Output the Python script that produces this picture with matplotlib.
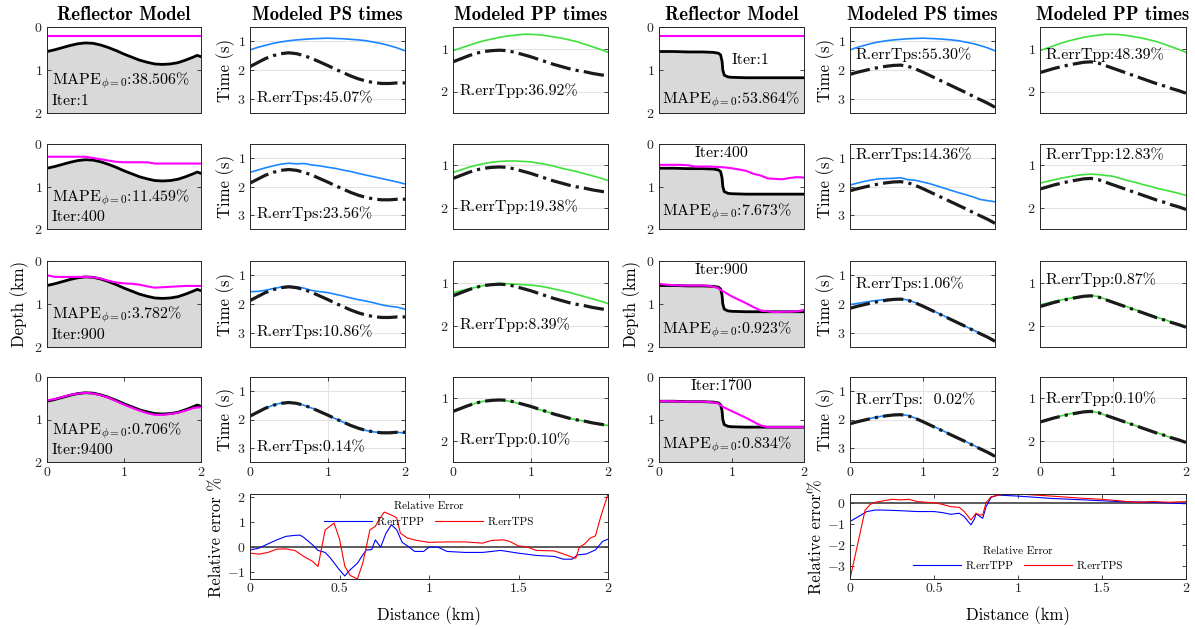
import numpy as np
import matplotlib.pyplot as plt

plt.rcParams['font.family'] = ['cmr10', 'DejaVu Serif']
plt.rcParams['mathtext.fontset'] = 'cm'
plt.rcParams['axes.formatter.use_mathtext'] = True

# ---------------- data ----------------
dist = np.round(np.arange(0, 2.01, 0.1), 2)

# left model: smooth reflector
ref_x_L = [0, 0.1, 0.2, 0.3, 0.4, 0.5, 0.6, 0.7, 0.8, 0.9, 1.0, 1.1, 1.2, 1.3,
           1.4, 1.5, 1.6, 1.7, 1.8, 1.9, 1.95, 2.0]
ref_true_L = [0.57, 0.53, 0.48, 0.43, 0.39, 0.37, 0.38, 0.42, 0.48, 0.55, 0.63,
              0.70, 0.77, 0.82, 0.86, 0.87, 0.86, 0.83, 0.77, 0.70, 0.66, 0.69]
ref_est_L = {
    1: [0.22] * 21,
    400: [0.30, 0.30, 0.30, 0.30, 0.30, 0.30, 0.33, 0.36, 0.39, 0.42, 0.43,
          0.43, 0.43, 0.43, 0.46, 0.46, 0.46, 0.46, 0.46, 0.46, 0.46],
    900: [0.33, 0.37, 0.37, 0.37, 0.37, 0.37, 0.38, 0.41, 0.46, 0.50, 0.52,
          0.53, 0.55, 0.59, 0.62, 0.61, 0.60, 0.59, 0.58, 0.58, 0.58],
    9400: [0.55, 0.52, 0.47, 0.42, 0.39, 0.37, 0.39, 0.43, 0.49, 0.57, 0.65,
           0.72, 0.79, 0.85, 0.89, 0.89, 0.87, 0.84, 0.79, 0.73, 0.71],
}
iters_L = [1, 400, 900, 9400]
mape_L = ['38.506', '11.459', '3.782', '0.706']

ps_true_L = [1.88, 1.74, 1.60, 1.50, 1.43, 1.40, 1.43, 1.50, 1.60, 1.72, 1.84,
             1.97, 2.09, 2.21, 2.31, 2.39, 2.44, 2.47, 2.47, 2.45, 2.45]
ps_est_L = {
    1: [1.30, 1.21, 1.14, 1.07, 1.02, 0.98, 0.95, 0.93, 0.91, 0.90, 0.89,
        0.90, 0.91, 0.93, 0.95, 0.98, 1.03, 1.08, 1.15, 1.23, 1.33],
    400: [1.50, 1.42, 1.34, 1.27, 1.21, 1.18, 1.20, 1.19, 1.24, 1.27, 1.32,
          1.36, 1.42, 1.47, 1.54, 1.60, 1.66, 1.72, 1.78, 1.84, 1.91],
    900: [1.57, 1.56, 1.52, 1.46, 1.41, 1.38, 1.40, 1.45, 1.53, 1.57, 1.60,
          1.66, 1.72, 1.79, 1.85, 1.90, 1.96, 2.03, 2.08, 2.11, 2.18],
    9400: [1.87, 1.73, 1.60, 1.49, 1.42, 1.40, 1.43, 1.50, 1.60, 1.72, 1.84,
           1.97, 2.09, 2.21, 2.31, 2.39, 2.44, 2.46, 2.46, 2.45, 2.48],
}
ps_err_L = ['45.07', '23.56', '10.86', '0.14']

pp_true_L = [1.31, 1.24, 1.17, 1.11, 1.07, 1.05, 1.04, 1.05, 1.09, 1.14, 1.19,
             1.25, 1.31, 1.37, 1.42, 1.47, 1.51, 1.54, 1.58, 1.61, 1.64]
pp_est_L = {
    1: [1.05, 0.99, 0.93, 0.87, 0.82, 0.78, 0.74, 0.71, 0.69, 0.67, 0.67,
        0.68, 0.70, 0.73, 0.76, 0.80, 0.84, 0.90, 0.96, 1.02, 1.09],
    400: [1.17, 1.11, 1.05, 1.00, 0.96, 0.93, 0.91, 0.90, 0.90, 0.91, 0.92,
          0.95, 0.98, 1.02, 1.07, 1.11, 1.15, 1.20, 1.25, 1.30, 1.36],
    900: [1.24, 1.19, 1.15, 1.11, 1.07, 1.04, 1.02, 1.03, 1.04, 1.05, 1.06,
          1.08, 1.11, 1.15, 1.19, 1.23, 1.28, 1.33, 1.38, 1.43, 1.49],
    9400: [1.30, 1.23, 1.17, 1.11, 1.07, 1.05, 1.04, 1.06, 1.10, 1.15, 1.20,
           1.26, 1.31, 1.37, 1.42, 1.47, 1.51, 1.54, 1.58, 1.61, 1.64],
}
pp_err_L = ['36.92', '19.38', '8.39', '0.10']

# right model: step reflector
ref_x_R = [0, 0.2, 0.4, 0.6, 0.75, 0.82, 0.85, 0.87, 0.88, 0.9, 0.95, 1.0, 1.2, 1.5, 2.0]
ref_true_R = [0.57, 0.57, 0.58, 0.58, 0.59, 0.61, 0.65, 0.80, 1.00, 1.12, 1.16,
              1.17, 1.18, 1.18, 1.18]
ref_est_R = {
    1: [0.22] * 21,
    400: [0.49, 0.49, 0.49, 0.49, 0.50, 0.53, 0.53, 0.53, 0.54, 0.55, 0.57,
          0.60, 0.63, 0.70, 0.74, 0.81, 0.82, 0.83, 0.80, 0.78, 0.79],
    900: [0.53, 0.55, 0.56, 0.57, 0.57, 0.57, 0.57, 0.58, 0.62, 0.72, 0.82,
          0.90, 0.98, 1.07, 1.15, 1.17, 1.19, 1.18, 1.18, 1.17, 1.14],
    1700: [0.57, 0.57, 0.57, 0.58, 0.58, 0.58, 0.58, 0.59, 0.61, 0.72, 0.80,
           0.88, 0.96, 1.05, 1.14, 1.18, 1.18, 1.18, 1.18, 1.18, 1.18],
}
iters_R = [1, 400, 900, 1700]
mape_R = ['53.864', '7.673', '0.923', '0.834']

ps_true_R = [2.15, 2.08, 2.02, 1.96, 1.91, 1.87, 1.84, 1.83, 1.87, 1.96, 2.07,
             2.19, 2.31, 2.43, 2.55, 2.67, 2.79, 2.92, 3.04, 3.16, 3.30]
ps_est_R = {
    1: [1.30, 1.21, 1.14, 1.07, 1.02, 0.98, 0.95, 0.93, 0.91, 0.90, 0.89,
        0.90, 0.91, 0.93, 0.95, 0.98, 1.03, 1.08, 1.15, 1.23, 1.33],
    400: [1.95, 1.88, 1.82, 1.77, 1.73, 1.72, 1.71, 1.69, 1.76, 1.78, 1.84,
          1.90, 1.98, 2.06, 2.14, 2.22, 2.29, 2.37, 2.46, 2.50, 2.54],
    900: [2.02, 1.98, 1.94, 1.90, 1.87, 1.84, 1.82, 1.82, 1.86, 1.95, 2.06,
          2.18, 2.30, 2.42, 2.54, 2.67, 2.79, 2.91, 3.03, 3.15, 3.27],
    1700: [2.13, 2.07, 2.01, 1.95, 1.90, 1.86, 1.83, 1.82, 1.86, 1.95, 2.06,
           2.18, 2.30, 2.42, 2.54, 2.66, 2.78, 2.91, 3.03, 3.16, 3.29],
}
ps_err_R = ['55.30', '14.36', '1.06', '  0.02']

pp_true_R = [1.56, 1.51, 1.46, 1.42, 1.38, 1.35, 1.32, 1.31, 1.34, 1.40, 1.46,
             1.52, 1.58, 1.64, 1.70, 1.76, 1.82, 1.87, 1.93, 1.98, 2.04]
pp_est_R = {
    1: [1.05, 0.99, 0.93, 0.87, 0.82, 0.78, 0.74, 0.71, 0.69, 0.67, 0.67,
        0.68, 0.70, 0.73, 0.76, 0.80, 0.84, 0.90, 0.96, 1.02, 1.09],
    400: [1.42, 1.38, 1.34, 1.30, 1.27, 1.24, 1.22, 1.21, 1.22, 1.24, 1.26,
          1.31, 1.36, 1.40, 1.45, 1.49, 1.54, 1.58, 1.62, 1.66, 1.71],
    900: [1.52, 1.48, 1.44, 1.40, 1.37, 1.34, 1.31, 1.30, 1.33, 1.39, 1.45,
          1.51, 1.57, 1.63, 1.69, 1.75, 1.81, 1.86, 1.92, 1.97, 2.02],
    1700: [1.55, 1.50, 1.46, 1.41, 1.37, 1.34, 1.32, 1.31, 1.34, 1.40, 1.46,
           1.52, 1.58, 1.64, 1.70, 1.76, 1.81, 1.87, 1.93, 1.98, 2.03],
}
pp_err_R = ['48.39', '12.83', '0.87', '0.10']

# relative error curves (bottom)
err_x_L_tpp = [0, 0.05, 0.1, 0.15, 0.2, 0.25, 0.28, 0.3, 0.35, 0.38, 0.42, 0.45,
               0.5, 0.53, 0.55, 0.58, 0.6, 0.63, 0.65, 0.68, 0.7, 0.73, 0.76,
               0.79, 0.82, 0.85, 0.88, 0.92, 0.97, 1.0, 1.05, 1.1, 1.2, 1.3,
               1.4, 1.5, 1.6, 1.7, 1.75, 1.8, 1.83, 1.88, 1.93, 1.97, 2.0]
err_L_tpp = [-0.11, -0.04, 0.13, 0.29, 0.43, 0.47, 0.48, 0.39, 0.09, -0.13,
             -0.21, -0.44, -0.91, -1.15, -0.97, -0.77, -0.64, -0.31, -0.11,
             -0.10, 0.29, 0.0, 0.56, 0.89, 0.69, 0.19, 0.05, -0.17, -0.17, 0.0,
             0.0, -0.17, -0.21, -0.21, -0.13, -0.24, -0.33, -0.37, -0.48,
             -0.48, -0.31, -0.27, -0.11, 0.23, 0.32]
err_x_L_tps = [0, 0.05, 0.1, 0.15, 0.2, 0.25, 0.3, 0.35, 0.38, 0.42, 0.47, 0.5,
               0.53, 0.56, 0.6, 0.63, 0.67, 0.7, 0.72, 0.75, 0.8, 0.82, 0.84,
               0.88, 0.93, 1.0, 1.1, 1.2, 1.3, 1.35, 1.42, 1.45, 1.5, 1.55, 1.6,
               1.7, 1.75, 1.8, 1.82, 1.84, 1.87, 1.9, 1.93, 1.96, 2.0]
err_L_tps = [-0.24, -0.28, -0.21, -0.08, -0.07, -0.13, -0.37, -0.57, -0.77,
             0.69, 0.96, 0.32, -0.77, -1.13, -1.27, -0.64, 0.69, 0.83, 1.09,
             1.40, 1.25, 1.16, 0.56, 0.36, 0.27, 0.19, 0.21, 0.21, 0.16, 0.27,
             0.29, 0.23, 0.05, 0.0, -0.13, -0.15, -0.27, -0.40, -0.44, 0.0,
             0.13, 0.36, 0.45, 1.23, 2.12]

err_x_R_tpp = [0, 0.05, 0.1, 0.15, 0.2, 0.3, 0.4, 0.5, 0.55, 0.6, 0.65, 0.68,
               0.72, 0.74, 0.75, 0.77, 0.79, 0.81, 0.84, 0.88, 1.0, 1.2, 1.4,
               1.6, 1.8, 2.0]
err_R_tpp = [-0.89, -0.66, -0.42, -0.35, -0.35, -0.38, -0.42, -0.42, -0.47,
             -0.55, -0.50, -0.66, -1.05, -0.78, -0.53, -0.63, -0.74, -0.19,
             0.25, 0.36, 0.31, 0.20, 0.13, 0.05, 0.02, -0.05]
err_x_R_tps = [0, 0.09, 0.1, 0.12, 0.15, 0.2, 0.25, 0.3, 0.35, 0.4, 0.45, 0.5,
               0.55, 0.6, 0.65, 0.68, 0.72, 0.75, 0.77, 0.79, 0.81, 0.84, 0.9,
               1.0, 1.2, 1.4, 1.5, 1.6, 1.7, 1.8, 1.9, 2.0]
err_R_tps = [-3.61, -0.35, -0.27, -0.08, 0.02, 0.09, 0.16, 0.13, 0.16, 0.05,
             0.02, 0.0, -0.08, -0.19, -0.22, -0.42, -0.82, -0.50, -0.58, -0.58,
             0.0, 0.28, 0.38, 0.41, 0.31, 0.20, 0.16, 0.09, 0.02, 0.05, 0.02,
             0.05]

# ---------------- layout ----------------
W, H = 1195, 629
fig = plt.figure(figsize=(W / 100, H / 100), dpi=100)

col_px = [(47, 201), (250, 405), (453, 608), (659, 804), (850, 995), (1040, 1186)]
row_px = [(27, 113), (144, 229), (261, 347), (377, 462)]

EDGE = '#262626'
BLUE = '#1a86ff'
GREEN = '#3fe03a'
MAGENTA = '#ff00ff'
FILL = '#d9d9d9'
TXT = 11.5
TITLE = 13.5


def add_box(l, t, r, b):
    return fig.add_axes([l / W, 1 - b / H, (r - l) / W, (b - t) / H])


def style(ax):
    ax.tick_params(direction='in', top=True, right=True, length=3, width=0.6,
                   labelsize=10, colors=EDGE, pad=3)
    for s in ax.spines.values():
        s.set_linewidth(0.7)
        s.set_color(EDGE)


def xaxis(ax, last):
    ax.set_xlim(0, 2)
    if last:
        ax.set_xticks([0, 1, 2])
    else:
        ax.set_xticks([])


def reflector(ax, xt, yt, ye, r):
    ax.fill_between(xt, yt, 2, color=FILL, lw=0)
    ax.plot(xt, yt, color='k', lw=2)
    ax.plot(dist, ye, color=MAGENTA, lw=1.5)
    ax.set_ylim(2, 0)
    ax.set_yticks([0, 1, 2])
    xaxis(ax, r == 3)
    style(ax)


def times(ax, true_t, est_t, color, ylim, yticks, r):
    ax.grid(True, color='#e3e3e3', lw=0.8)
    ax.set_axisbelow(True)
    ax.plot(dist, est_t, color=color, lw=1.2)
    ax.plot(dist, true_t, '-.', color='#1a1a1a', lw=2.3)
    ax.set_ylim(*ylim)
    ax.set_yticks(yticks)
    xaxis(ax, r == 3)
    style(ax)


for r in range(4):
    t, b = row_px[r]
    # ---- left group ----
    it = iters_L[r]
    ax = add_box(col_px[0][0], t, col_px[0][1], b)
    reflector(ax, ref_x_L, ref_true_L, ref_est_L[it], r)
    ax.text(0.03, 0.37, r'MAPE$_{\phi=0}$:' + mape_L[r] + '%', transform=ax.transAxes,
            fontsize=TXT, va='center')
    ax.text(0.03, 0.14, 'Iter:%d' % it, transform=ax.transAxes, fontsize=TXT, va='center')
    if r == 0:
        ax.set_title('Reflector Model', fontfamily='cmb10', fontsize=TITLE, pad=5)
    if r == 2:
        ax.set_ylabel('Depth (km)', fontsize=12)

    ax = add_box(col_px[1][0], t, col_px[1][1], b)
    times(ax, ps_true_L, ps_est_L[it], BLUE, (3.5, 0.5), [1, 2, 3], r)
    ax.text(0.04, 0.18, 'R.errTps:' + ps_err_L[r] + '%', transform=ax.transAxes,
            fontsize=TXT, va='center')
    ax.set_ylabel('Time (s)', fontsize=12, labelpad=2)
    if r == 0:
        ax.set_title('Modeled PS times', fontfamily='cmb10', fontsize=TITLE, pad=5)

    ax = add_box(col_px[2][0], t, col_px[2][1], b)
    times(ax, pp_true_L, pp_est_L[it], GREEN, (2.5, 0.5), [1, 2], r)
    ax.text(0.04, 0.26, 'R.errTpp:' + pp_err_L[r] + '%', transform=ax.transAxes,
            fontsize=TXT, va='center')
    if r == 0:
        ax.set_title('Modeled PP times', fontfamily='cmb10', fontsize=TITLE, pad=5)

    # ---- right group ----
    it = iters_R[r]
    ax = add_box(col_px[3][0], t, col_px[3][1], b)
    reflector(ax, ref_x_R, ref_true_R, ref_est_R[it], r)
    if r == 0:
        ax.text(0.63, 0.61, 'Iter:%d' % it, transform=ax.transAxes, fontsize=TXT,
                ha='center', va='center')
        ax.text(0.02, 0.16, r'MAPE$_{\phi=0}$:' + mape_R[r] + '%',
                transform=ax.transAxes, fontsize=TXT, va='center')
        ax.set_title('Reflector Model', fontfamily='cmb10', fontsize=TITLE, pad=5)
    else:
        ax.text(0.43, 0.89, 'Iter:%d' % it, transform=ax.transAxes, fontsize=TXT,
                ha='center', va='center')
        ax.text(0.02, 0.2, r'MAPE$_{\phi=0}$:' + mape_R[r] + '%',
                transform=ax.transAxes, fontsize=TXT, va='center')
    if r == 2:
        ax.set_ylabel('Depth (km)', fontsize=12)

    ps_y = [0.68, 0.87, 0.74, 0.73][r]
    ax = add_box(col_px[4][0], t, col_px[4][1], b)
    times(ax, ps_true_R, ps_est_R[it], BLUE, (3.5, 0.5), [1, 2, 3], r)
    ax.text(0.04, ps_y, 'R.errTps:' + ps_err_R[r] + '%', transform=ax.transAxes,
            fontsize=TXT, va='center')
    ax.set_ylabel('Time (s)', fontsize=12, labelpad=2)
    if r == 0:
        ax.set_title('Modeled PS times', fontfamily='cmb10', fontsize=TITLE, pad=5)

    pp_y = [0.68, 0.88, 0.78, 0.75][r]
    ax = add_box(col_px[5][0], t, col_px[5][1], b)
    times(ax, pp_true_R, pp_est_R[it], GREEN, (2.5, 0.5), [1, 2], r)
    ax.text(0.04, pp_y, 'R.errTpp:' + pp_err_R[r] + '%', transform=ax.transAxes,
            fontsize=TXT, va='center')
    if r == 0:
        ax.set_title('Modeled PP times', fontfamily='cmb10', fontsize=TITLE, pad=5)


def error_panel(ax, xa, ya, xb, yb, ylabel, loc):
    ax.axhline(0, color='#404040', lw=1.2)
    ax.plot(xa, ya, color='#0000ff', lw=0.8, label='R.errTPP')
    ax.plot(xb, yb, color='#ff0000', lw=0.8, label='R.errTPS')
    ax.set_xlim(0, 2)
    lo = min(min(ya), min(yb))
    hi = max(max(ya), max(yb))
    ax.set_ylim(lo, hi)
    ax.set_xticks([0, 0.5, 1, 1.5, 2])
    ax.set_xticklabels(['0', '0.5', '1', '1.5', '2'])
    ax.set_xlabel('Distance (km)', fontsize=12, labelpad=8)
    ax.set_ylabel(ylabel, fontsize=12, labelpad=2)
    style(ax)
    leg = ax.legend(loc=loc, ncol=2, frameon=False, title='Relative Error',
                    fontsize=8, title_fontsize=8, handlelength=4.3,
                    columnspacing=1.0, handletextpad=0.4, borderaxespad=0.3)
    return leg


ax = add_box(250, 494, 608, 579)
error_panel(ax, err_x_L_tpp, err_L_tpp, err_x_L_tps, err_L_tps, 'Relative error %',
            'upper center')
ax.set_yticks([-1, 0, 1, 2])

ax = add_box(850, 494, 1186, 579)
error_panel(ax, err_x_R_tpp, err_R_tpp, err_x_R_tps, err_R_tps, 'Relative error%',
            'lower center')
ax.set_yticks([-3, -2, -1, 0])

fig.savefig('out.png', dpi=100)
